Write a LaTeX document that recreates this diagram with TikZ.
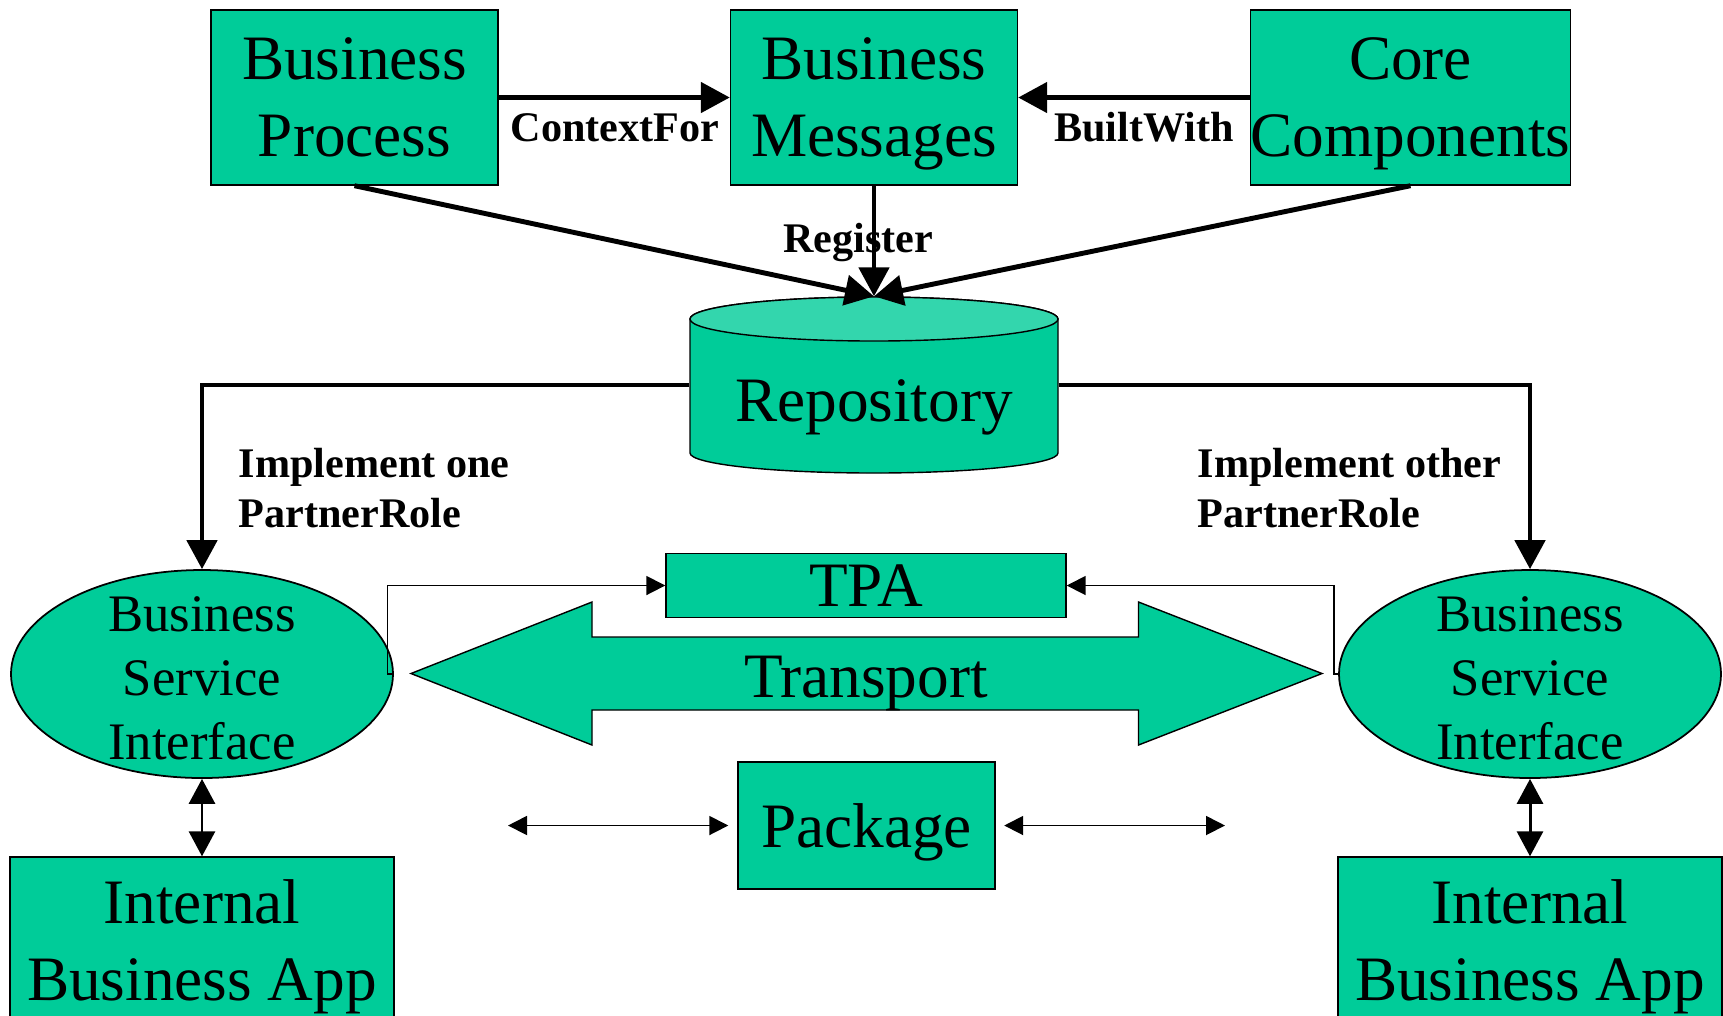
\documentclass[tikz,border=0pt]{standalone}
\usepackage{fontspec}
\setmainfont{Liberation Serif}
\usetikzlibrary{arrows.meta,shapes.geometric}
\definecolor{ebgreen}{HTML}{00CC99}
\definecolor{eblight}{HTML}{33D6AD}
\begin{document}
\begin{tikzpicture}
        \tikzstyle{block} = [rectangle, draw=black, fill=ebgreen, text=black, align=center, inner sep=0pt, line width=.4pt, font=\fontsize{18}{21.9}\selectfont, text depth=0pt]
        \tikzstyle{bsi} = [ellipse, draw=black, fill=ebgreen, line width=.5pt, minimum width=3.82cm, minimum height=2.08cm, inner sep=0pt]
        \tikzstyle{bsitext} = [align=center, inner sep=0pt, text depth=0pt, font=\fontsize{15}{18.3}\selectfont]
        \tikzstyle{lbl} = [inner sep=0pt, font=\bfseries\fontsize{12}{14.2}\selectfont]
        \tikzstyle{line} = [-{Triangle[length=.29cm,width=.3cm]},draw=black,line width=1.4pt]
        \tikzstyle{dline} = [{Triangle[length=.25cm,width=.26cm]}-{Triangle[length=.25cm,width=.26cm]},draw=black,line width=.85pt]
        \tikzstyle{wire} = [-{Triangle[length=.19cm,width=.19cm]},draw=black,line width=.5pt]
        \tikzstyle{dwire} = [{Triangle[length=.19cm,width=.19cm]}-{Triangle[length=.19cm,width=.19cm]},draw=black,line width=.5pt]
        \useasboundingbox (0,0) rectangle (17.23,-10.15);
        \clip (0,0) rectangle (17.23,-10.15);
        % top row
        \node[block,minimum width=2.87cm,minimum height=1.75cm] (bp) at (3.545,-.975) {Business\\Process};
        \node[block,minimum width=2.87cm,minimum height=1.75cm] (bm) at (8.74,-.975) {Business\\Messages};
        \node[block,minimum width=3.19cm,minimum height=1.75cm] (cc) at (14.105,-.975) {Core\\Components};
        % repository
        \draw[fill=ebgreen,line width=.4pt] (6.90,-3.19) -- (6.90,-4.53) arc[start angle=180,end angle=360,x radius=1.84cm,y radius=.2cm] -- (10.58,-3.19) arc[start angle=0,end angle=180,x radius=1.84cm,y radius=.22cm] -- cycle;
        \draw[fill=eblight,line width=.4pt] (8.74,-3.19) ellipse[x radius=1.84cm,y radius=.22cm];
        \node[minimum width=3.68cm,minimum height=1.76cm,inner sep=0pt] (repo) at (8.74,-3.85) {};
        \node[font=\fontsize{18}{21.3}\selectfont] (repotext) at (8.74,-4.07) {Repository};
        % partners
        \node[bsi] (bsiL) at (2.02,-6.74) {};
        \node[bsitext] (bsiLtext) at ([yshift=-.04cm]bsiL.center) {Business\\Service\\Interface};
        \node[bsi] (bsiR) at (15.30,-6.74) {};
        \node[bsitext] (bsiRtext) at ([yshift=-.04cm]bsiR.center) {Business\\Service\\Interface};
        \node[block,minimum width=3.84cm,minimum height=1.66cm] (ibaL) at (2.02,-9.40) {Internal\\Business App};
        \node[block,minimum width=3.84cm,minimum height=1.66cm] (ibaR) at (15.30,-9.40) {Internal\\Business App};
        % middle
        \node[block,minimum width=4cm,minimum height=.64cm] (tpa) at (8.66,-5.855) {TPA};
        \draw[fill=ebgreen,line width=.4pt] (4.11,-6.735) -- (5.92,-6.02) -- (5.92,-6.37) -- (11.385,-6.37) -- (11.385,-6.02) -- (13.22,-6.735) -- (11.385,-7.45) -- (11.385,-7.10) -- (5.92,-7.10) -- (5.92,-7.45) -- cycle;
        \node[font=\fontsize{18}{21.3}\selectfont,anchor=base] (transport) at (8.66,-6.97) {Transport};
        \node[block,minimum width=2.57cm,minimum height=1.27cm] (pkg) at (8.665,-8.255) {Package};
        \coordinate (pkgL) at (5.08,-8.255);
        \coordinate (pkgR) at (12.25,-8.255);
        % labels
        \node[lbl,anchor=base] (ctx) at (6.15,-1.41) {ContextFor};
        \node[lbl,anchor=base] (built) at (11.44,-1.41) {BuiltWith};
        \node[lbl,anchor=base] (reg) at (8.58,-2.52) {Register};
        \node[lbl,anchor=north west,align=left] (implL) at (2.38,-4.48) {Implement one\\PartnerRole};
        \node[lbl,anchor=north west,align=left] (implR) at (11.97,-4.48) {Implement other\\PartnerRole};
        % connectors
        \draw[line] (bp) to (bm);
        \draw[line] (cc) to (bm);
        \draw[line] (bm.south) to (repo.north);
        \draw[line] (bp.south) to (repo.north);
        \draw[line] (cc.south) to (repo.north);
        \draw[line] (repo.west) -| (bsiL.north);
        \draw[line] (repo.east) -| (bsiR.north);
        \draw[dline] (bsiL.south) to (ibaL.north);
        \draw[dline] (bsiR.south) to (ibaR.north);
        \draw[wire] (bsiL.east) -- ++(-.065,0) |- (tpa.west);
        \draw[wire] (bsiR.west) -- ++(-.04,0) |- (tpa.east);
        \draw[dwire,shorten >=.09cm] (pkgL) to (pkg.west);
        \draw[dwire,shorten <=.085cm] (pkg.east) to (pkgR);
\end{tikzpicture}
\end{document}
